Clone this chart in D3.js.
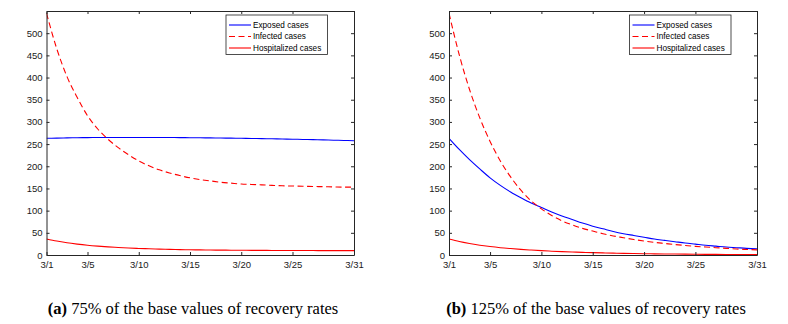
<!DOCTYPE html>
<head>
  <meta charset="utf-8">
  <script src="https://d3js.org/d3.v7.min.js"></script>
  <style>
    body { margin: 0; padding: 0; background: #fff; }
    svg { display: block; }
    .axis text { font-family: "Liberation Sans", Arial, sans-serif; font-size: 9.5px; fill: #1a1a1a; }
    .axis path, .axis line { stroke: #262626; }
    .legend text { font-family: "Liberation Sans", Arial, sans-serif; font-size: 8.2px; fill: #000; }
    .caption { font-family: "Liberation Serif", "Times New Roman", serif; font-size: 16.5px; fill: #000; }
  </style>
</head>

<body>
  <script>
    // days of March, 3/1 .. 3/31
    var days = d3.range(1, 32);
    var tickDays = [1, 5, 10, 15, 20, 25, 31];
    var yTicks = [0, 50, 100, 150, 200, 250, 300, 350, 400, 450, 500];
    var seriesNames = ['Exposed cases', 'Infected cases', 'Hospitalized cases'];
    var captions = ['75% of the base values of recovery rates', '125% of the base values of recovery rates'];
    var captionTags = ['(a)', '(b)'];

    // (a) 75% of base recovery rates
    var exposedA = [263, 263.5, 264, 264.3, 264.6, 264.8, 265, 265, 265, 265, 265, 264.9, 264.8, 264.6, 264.4,
      264.2, 264, 263.7, 263.4, 263.1, 262.7, 262.3, 261.9, 261.5, 261, 260.5, 260, 259.4, 258.8, 258.2, 257.5];
    var infectedA = [545, 465, 402, 355, 314, 284, 261, 242, 226, 212, 201, 192, 185, 179, 174,
      170, 167, 164, 162, 160, 159, 158, 157, 156, 155.5, 155, 154.5, 154, 153.5, 153, 153];
    var hospitalA = [36, 31.5, 27.5, 24.5, 22, 20, 18.3, 17, 15.8, 14.8, 14, 13.3, 12.7, 12.2, 11.8,
      11.5, 11.2, 11, 10.8, 10.6, 10.5, 10.4, 10.3, 10.2, 10.1, 10, 10, 9.9, 9.9, 9.8, 9.8];

    // (b) 125% of base recovery rates
    var exposedB = [263, 238, 215, 194, 174, 157, 142, 129, 117, 107, 97, 88, 80, 72, 65,
      59, 53, 48, 44, 40, 36, 33, 30, 27, 24.5, 22, 20, 18, 16.5, 15, 14];
    var infectedB = [545, 451, 373, 309, 256, 212, 176, 146, 122, 104, 89, 77, 68, 60, 54,
      48, 43, 39, 35, 31.5, 28.5, 26, 23.5, 21.5, 19.5, 18, 16.5, 15, 13.5, 12.5, 11.5];
    var hospitalB = [36, 30.5, 26, 22, 19, 16.5, 14.5, 12.7, 11.2, 9.8, 8.6, 7.6, 6.7, 6, 5.3,
      4.7, 4.2, 3.7, 3.3, 2.9, 2.6, 2.3, 2.1, 1.9, 1.7, 1.5, 1.3, 1.2, 1.1, 1, 1];

    var panels = [
      { left: 46.5, right: 354, series: [exposedA, infectedA, hospitalA], legendX: 226, capX: 193 },
      { left: 449, right: 757, series: [exposedB, infectedB, hospitalB], legendX: 629.5, capX: 596 }
    ];
    var plotTop = 11, plotBottom = 255;
    var colors = ['#0000ff', '#ff0000', '#ff0000'];
    var dashes = [null, '6,3.5', null];

    var svg = d3.select('body').append('svg')
      .attr('width', 788)
      .attr('height', 324);

    var y = d3.scaleLinear().domain([0, 550]).range([plotBottom, plotTop]);

    panels.forEach(function (p, pi) {
      var x = d3.scaleLinear().domain([1, 31]).range([p.left, p.right]);
      var g = svg.append('g');

      var line = d3.line()
        .x(function (d, i) { return x(days[i]); })
        .y(function (d) { return y(d); })
        .curve(d3.curveMonotoneX);

      var clipId = 'clip' + pi;
      g.append('clipPath').attr('id', clipId)
        .append('rect').attr('x', p.left).attr('y', plotTop)
        .attr('width', p.right - p.left).attr('height', plotBottom - plotTop);

      p.series.forEach(function (s, si) {
        g.append('path')
          .datum(s)
          .attr('clip-path', 'url(#' + clipId + ')')
          .attr('fill', 'none')
          .attr('stroke', colors[si])
          .attr('stroke-width', 1.1)
          .attr('stroke-dasharray', dashes[si])
          .attr('d', line);
      });

      // axes with inward ticks on all four sides
      g.append('g').attr('class', 'axis')
        .attr('transform', 'translate(0,' + plotBottom + ')')
        .call(d3.axisBottom(x).tickValues(tickDays).tickSize(-3).tickSizeOuter(0).tickPadding(6)
          .tickFormat(function (d) { return '3/' + d; }));
      g.append('g').attr('class', 'axis')
        .attr('transform', 'translate(0,' + plotTop + ')')
        .call(d3.axisTop(x).tickValues(tickDays).tickSize(-3).tickSizeOuter(0).tickFormat(''));
      g.append('g').attr('class', 'axis')
        .attr('transform', 'translate(' + p.left + ',0)')
        .call(d3.axisLeft(y).tickValues(yTicks).tickSize(-3).tickSizeOuter(0).tickPadding(4));
      g.append('g').attr('class', 'axis')
        .attr('transform', 'translate(' + p.right + ',0)')
        .call(d3.axisRight(y).tickValues(yTicks).tickSize(-3).tickSizeOuter(0).tickFormat(''));

      // legend
      var lg = g.append('g').attr('class', 'legend')
        .attr('transform', 'translate(' + p.legendX + ',15)');
      lg.append('rect')
        .attr('width', 101.5).attr('height', 39.5)
        .attr('fill', '#fff').attr('stroke', '#222').attr('stroke-width', 0.8);
      seriesNames.forEach(function (name, si) {
        var ry = 10 + si * 11.5;
        lg.append('line')
          .attr('x1', 3).attr('x2', 25).attr('y1', ry).attr('y2', ry)
          .attr('stroke', colors[si]).attr('stroke-width', 1.1)
          .attr('stroke-dasharray', dashes[si]);
        lg.append('text')
          .attr('x', 27).attr('y', ry).attr('dy', '0.35em')
          .text(name);
      });

      // caption
      var cap = svg.append('text').attr('class', 'caption')
        .attr('x', p.capX).attr('y', 314).attr('text-anchor', 'middle');
      cap.append('tspan').attr('font-weight', 'bold').text(captionTags[pi]);
      cap.append('tspan').text(' ' + captions[pi]);
    });
  </script>
</body>
